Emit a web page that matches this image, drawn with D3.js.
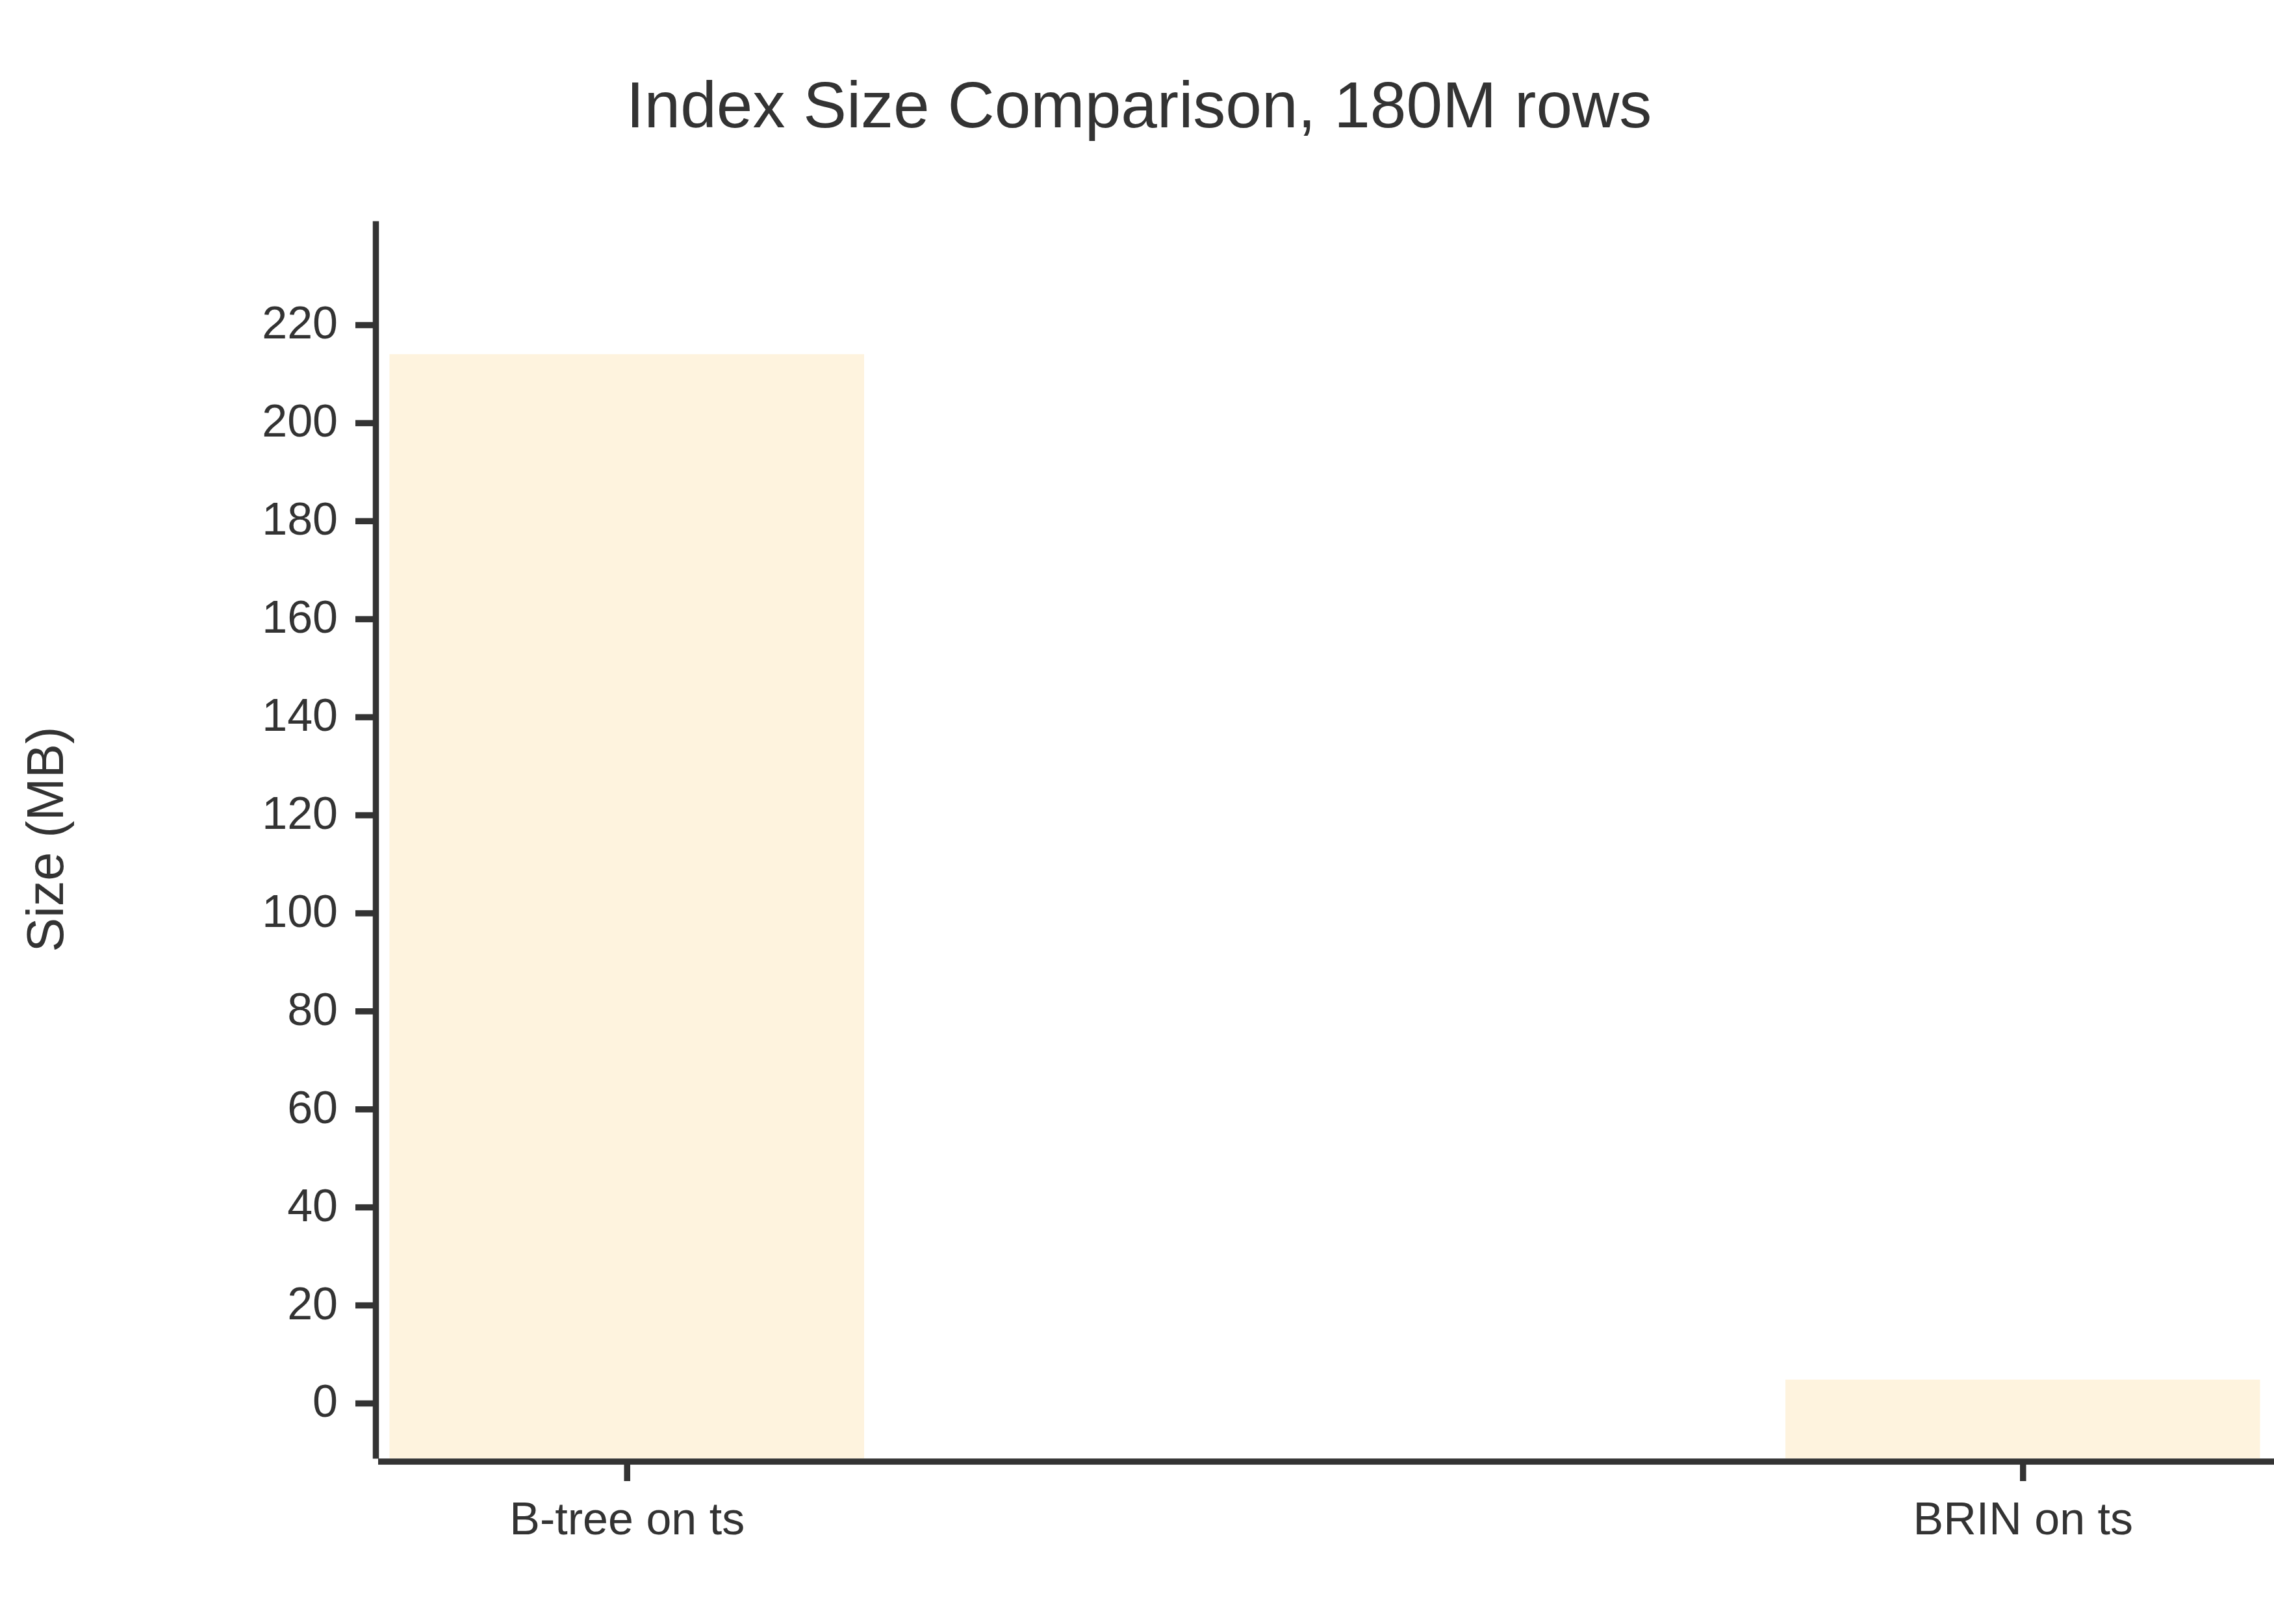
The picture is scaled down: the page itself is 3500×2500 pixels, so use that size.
<!DOCTYPE html>
<html>
<head>
<meta charset="utf-8">
<script src="https://cdn.jsdelivr.net/npm/d3@7"></script>
<style>
  body { margin: 0; background: #fff; }
  svg { display: block; font-family: "Liberation Sans", Arial, sans-serif; }
</style>
</head>
<body>
<svg id="chart" width="3500" height="2500"></svg>
<script>
const categories = ["B-tree on ts", "BRIN on ts"];
const sizesMB = [214, 4.8];
const yTicks = [0, 20, 40, 60, 80, 100, 120, 140, 160, 180, 200, 220];

const width = 3500;
const height = 2500;
const ink = "#333333";
const barFill = "#fef3de";

const svg = d3.select("#chart");

// scales
const x = d3.scaleLinear().domain([-0.18, 1.18]).range([578, 3500]);
const y = d3.scaleLinear().domain([-11.27, 241.2]).range([2245, 340]);
const barWidth = 0.34;

// bars start at the bottom of the plot area
svg.append("g")
  .selectAll("rect")
  .data(sizesMB)
  .join("rect")
  .attr("x", (d, i) => x(i - barWidth / 2))
  .attr("width", x(barWidth) - x(0))
  .attr("y", d => y(d))
  .attr("height", d => y(y.domain()[0]) - y(d))
  .attr("fill", barFill);

// y axis
const yAxis = svg.append("g")
  .attr("transform", `translate(${x.range()[0]},0)`)
  .call(d3.axisLeft(y).tickValues(yTicks).tickSize(31).tickSizeOuter(0).tickPadding(27));

// x axis
const xAxis = svg.append("g")
  .attr("transform", `translate(0,${y.range()[0] + 5})`)
  .call(d3.axisBottom(x)
    .tickValues(d3.range(categories.length))
    .tickFormat(i => categories[i])
    .tickSize(30).tickSizeOuter(0).tickPadding(32));

xAxis.select(".domain").attr("d", `M${x.range()[0] + 4},0H${width}`);

[yAxis, xAxis].forEach(g => {
  g.select(".domain").attr("stroke", ink).attr("stroke-width", 9.5);
  g.selectAll(".tick line").attr("stroke", ink).attr("stroke-width", 9.5);
  g.selectAll(".tick text")
    .attr("fill", ink)
    .style("font-family", "'Liberation Sans', Arial, sans-serif")
    .style("font-size", "70px");
});
yAxis.selectAll(".tick text").attr("dy", "0.3em");

// y label
svg.append("text")
  .attr("transform", `translate(97,1292) rotate(-90)`)
  .attr("text-anchor", "middle")
  .attr("fill", ink)
  .style("font-size", "79px")
  .text("Size (MB)");

// title
svg.append("text")
  .attr("x", 1753)
  .attr("y", 196)
  .attr("text-anchor", "middle")
  .attr("fill", ink)
  .style("font-size", "100px")
  .text("Index Size Comparison, 180M rows");
</script>
</body>
</html>
